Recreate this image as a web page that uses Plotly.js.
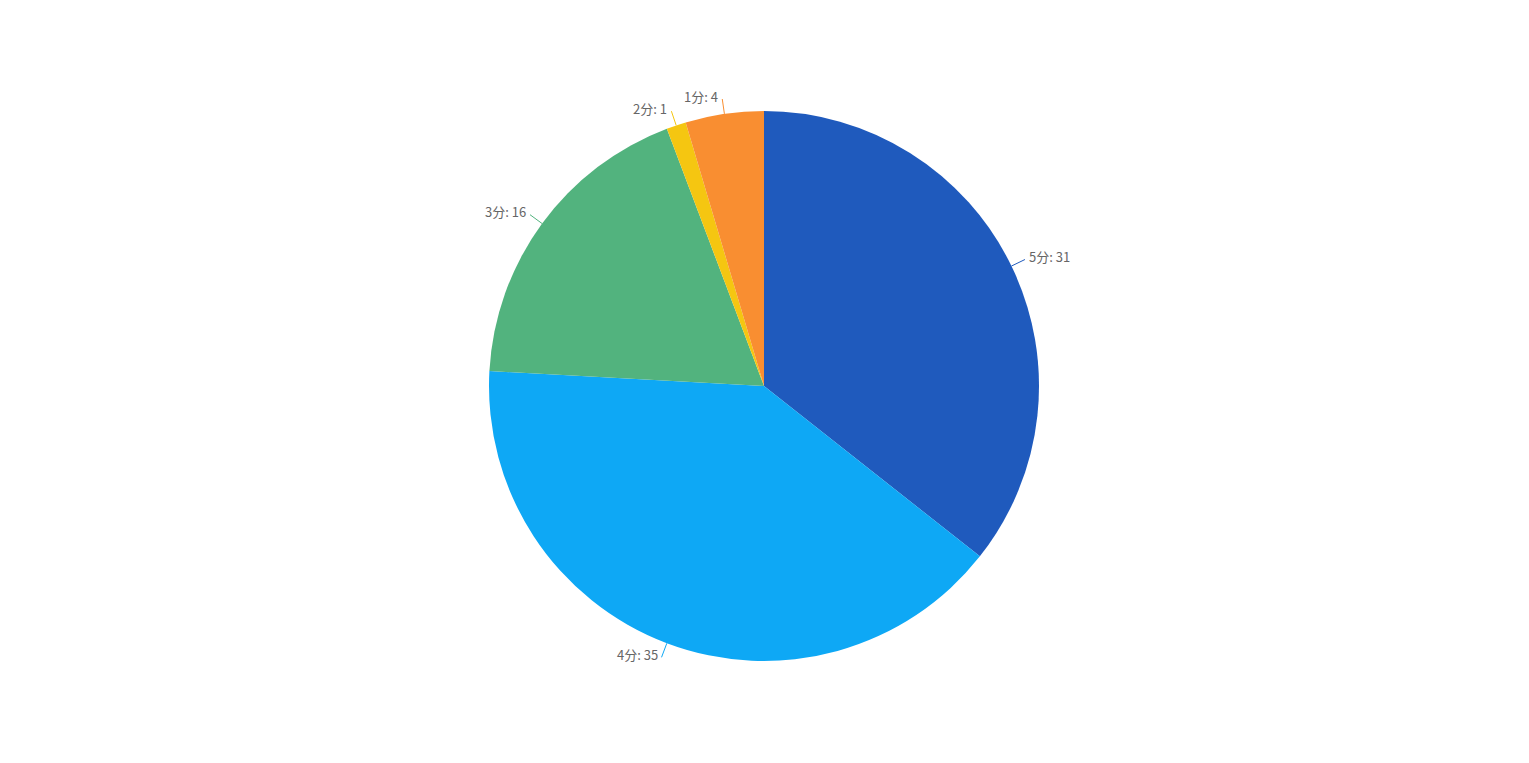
<!DOCTYPE html>
<html><head><meta charset="utf-8">
<script src="https://cdn.plot.ly/plotly-3.0.1.min.js"></script>
<style>html,body{margin:0;padding:0;background:#fff}#chart{width:1529px;height:763px}</style>
</head><body><div id="chart"></div>
<script>
const categories = ['5分', '4分', '3分', '2分', '1分'];
const values = [31, 35, 16, 1, 4];
const colors = ['#1F5ABD', '#0EA8F5', '#52B37E', '#F5C611', '#F98E31'];

const W = 1529, H = 763;
const cx = 764, cy = 386, R = 275;
const total = values.reduce((a, b) => a + b, 0);

const shapes = [], annotations = [];
let cum = 0;
values.forEach((v, i) => {
  const mid = (cum + v / 2) / total * 2 * Math.PI;
  cum += v;
  const s = Math.sin(mid), c = -Math.cos(mid);
  const px = cx + R * s, py = cy + R * c;
  const L = R + 15;
  const qx = cx + L * s, qy = cy + L * c;
  shapes.push({type: 'line', xref: 'paper', yref: 'paper',
    x0: px / W, y0: 1 - py / H, x1: qx / W, y1: 1 - qy / H,
    line: {color: colors[i], width: 1}});
  const right = s >= 0;
  annotations.push({xref: 'paper', yref: 'paper', showarrow: false,
    x: (qx + (right ? 2 : -2)) / W, y: 1 - (qy - 3) / H,
    xanchor: right ? 'left' : 'right', yanchor: 'middle',
    text: categories[i] + ': ' + values[i],
    font: {family: '"Noto Sans CJK SC", sans-serif', size: 13, color: '#666666'}});
});

const data = [{
  type: 'pie', labels: categories, values: values, sort: false,
  direction: 'clockwise', rotation: 0,
  marker: {colors: colors, line: {width: 0}},
  textinfo: 'none', hoverinfo: 'none', showlegend: false,
  domain: {x: [(cx - R) / W, (cx + R) / W], y: [(H - cy - R) / H, (H - cy + R) / H]}
}];
const layout = {width: W, height: H, margin: {l: 0, r: 0, t: 0, b: 0},
  paper_bgcolor: '#fff', shapes: shapes, annotations: annotations, showlegend: false};
Plotly.newPlot('chart', data, layout, {displayModeBar: false, staticPlot: true});
</script></body></html>
